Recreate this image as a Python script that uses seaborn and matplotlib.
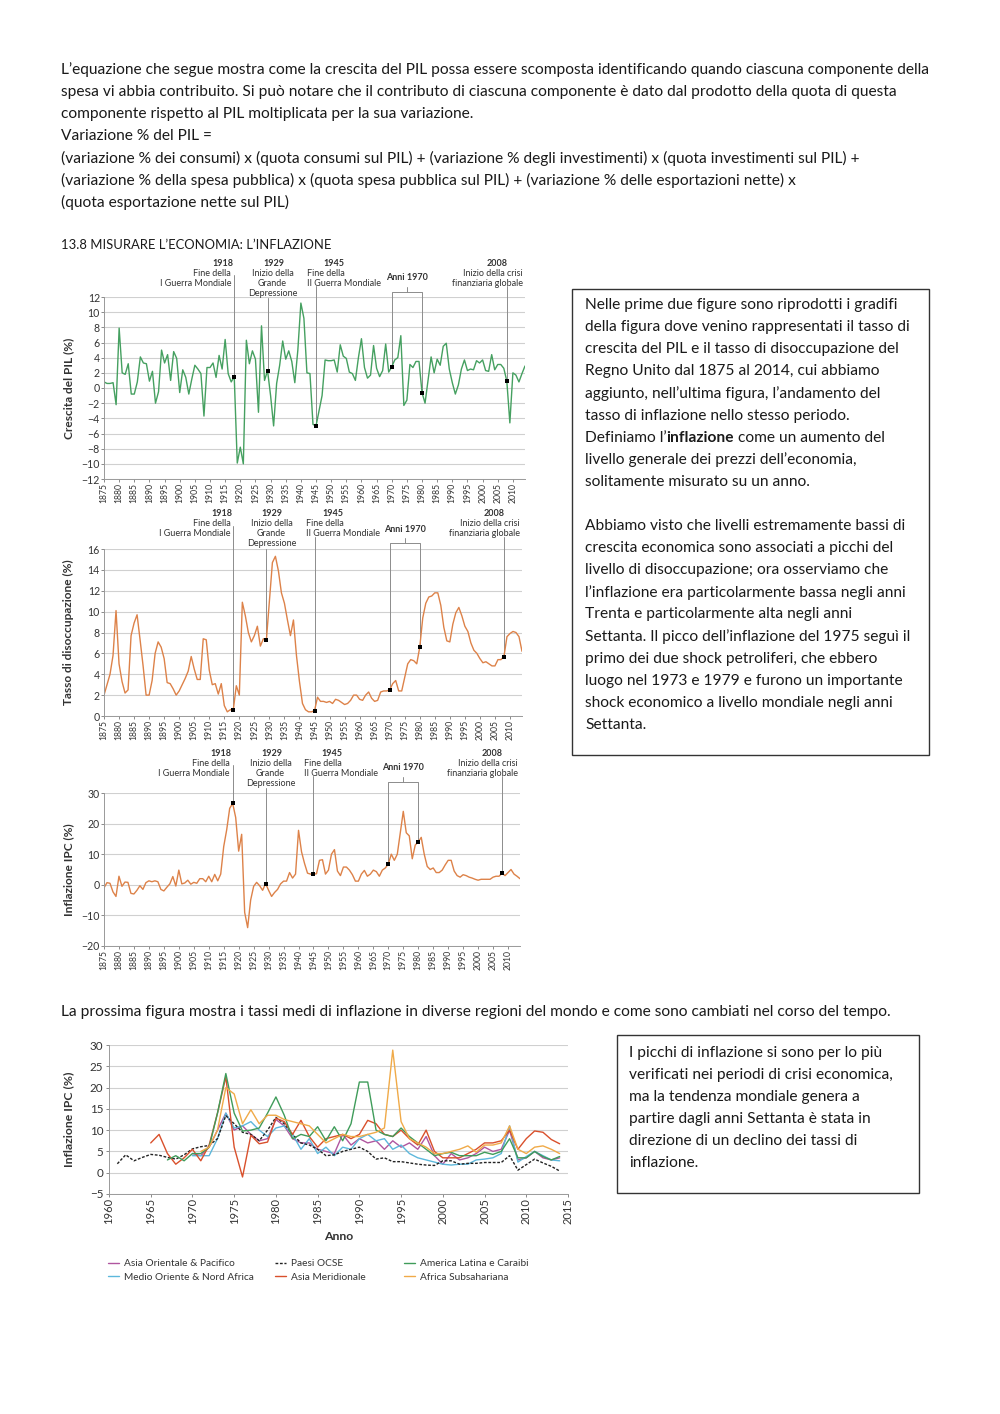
import numpy as np
import pandas as pd
import matplotlib
matplotlib.use('Agg')
import matplotlib.pyplot as plt
from matplotlib.patches import Rectangle
import seaborn as sns

# --- dati Regno Unito 1875-2014 ---
anni = np.arange(1875, 2015)

crescita_pil = [
    0.8, 0.6, 0.6, 0.7, -2.2,   7.9, 2.0, 1.8, 3.2, -0.8,
    -0.8, 0.8, 4.1, 3.3, 3.2,   0.9, 2.2, -2.0, -0.5, 5.0,
    3.3, 4.4, 1.0, 4.8, 3.9,    -0.6, 2.4, 1.4, -0.8, 1.2,
    3.0, 2.5, 1.9, -3.7, 2.7,   2.7, 3.3, 1.4, 4.3, 2.5,
    6.4, 1.9, 0.8, 1.5, -9.9,   -7.8, -10.0, 6.3, 3.2, 4.9,
    3.8, -3.2, 8.2, 1.0, 2.3,   -1.0, -5.0, 0.6, 3.0, 6.2,
    3.8, 4.9, 3.5, 0.7, 5.0,    11.2, 9.2, 2.0, 1.9, -4.8,
    -5.0, -3.0, -1.0, 3.7, 3.6, 3.6, 3.7, 2.1, 5.7, 4.2,
    3.9, 2.1, 1.9, 1.0, 4.0,    6.5, 2.7, 1.3, 1.7, 5.6,
    2.6, 1.5, 2.3, 5.8, 2.1,    2.8, 3.7, 4.0, 6.9, -2.3,
    -1.6, 3.1, 2.7, 3.5, 3.5,   -0.6, -2.0, 1.0, 4.1, 2.0,
    3.8, 3.0, 5.5, 5.9, 2.5,    0.7, -0.8, 0.4, 2.5, 3.7,
    2.3, 2.5, 2.4, 3.6, 3.3,    3.7, 2.3, 2.2, 4.4, 2.4,
    3.1, 3.1, 2.6, 0.9, -4.6,   2.0, 1.7, 0.8, 1.9, 2.9,
]

disoccupazione = [
    2.0, 3.0, 4.0, 5.8, 10.1,   5.0, 3.3, 2.2, 2.5, 7.7,
    8.9, 9.7, 7.3, 4.8, 2.0,    2.0, 3.4, 6.0, 7.1, 6.6,
    5.5, 3.2, 3.1, 2.6, 2.0,    2.4, 3.0, 3.6, 4.3, 5.7,
    4.5, 3.5, 3.5, 7.4, 7.3,    4.4, 3.0, 3.1, 2.1, 3.1,
    1.0, 0.4, 0.6, 0.6, 2.9,    2.0, 10.9, 9.6, 8.0, 7.1,
    7.7, 8.6, 6.7, 7.4, 7.3,    11.0, 14.7, 15.3, 13.9, 11.8,
    10.8, 9.2, 7.7, 9.2, 5.8,   3.3, 1.2, 0.6, 0.4, 0.4,
    0.5, 1.8, 1.4, 1.4, 1.3,    1.4, 1.2, 1.6, 1.5, 1.3,
    1.1, 1.2, 1.5, 2.0, 2.0,    1.6, 1.5, 2.0, 2.3, 1.7,
    1.4, 1.5, 2.3, 2.4, 2.4,    2.5, 3.1, 3.4, 2.4, 2.4,
    3.7, 5.0, 5.4, 5.3, 5.0,    6.6, 9.4, 10.8, 11.4, 11.5,
    11.8, 11.8, 10.6, 8.5, 7.2, 7.1, 8.8, 9.9, 10.4, 9.6,
    8.6, 8.1, 7.0, 6.3, 6.0,    5.5, 5.1, 5.2, 5.0, 4.8,
    4.8, 5.4, 5.4, 5.7, 7.6,    7.9, 8.1, 8.0, 7.6, 6.2,
]

inflazione_uk = [
    -1.0, 0.7, 0.5, -2.3, -3.8, 2.8, -0.5, 0.9, 0.8, -2.8,
    -3.0, -1.8, -0.3, -1.5, 0.7, 1.3, 1.0, 1.3, 1.0, -1.5,
    -2.0, -0.8, 0.3, 2.7, -0.4, 4.8, 0.3, 0.6, 1.5, 0.2,
    0.8, 0.5, 2.0, 2.0, 1.0,    2.8, 1.0, 3.4, 1.3, 3.5,
    12.5, 18.0, 25.0, 26.6, 22.0, 11.0, 16.5, -9.0, -14.0, -5.0,
    -0.5, 0.8, -0.3, -1.8, 0.4, -1.8, -3.8, -2.5, -1.5, 0.3,
    1.2, 1.2, 4.0, 2.2, 3.5,    17.8, 10.8, 7.0, 3.8, 3.5,
    3.5, 3.6, 8.0, 8.2, 3.5,    4.8, 10.0, 11.5, 4.5, 3.0,
    5.8, 5.8, 4.8, 3.3, 1.2,    1.2, 3.5, 4.7, 2.8, 3.5,
    4.8, 4.3, 2.8, 4.8, 5.5,    6.8, 10.0, 8.0, 10.0, 17.0,
    24.0, 17.0, 16.0, 8.5, 13.0, 14.0, 15.5, 10.0, 6.0, 5.0,
    5.5, 4.0, 4.0, 4.8, 6.5,    8.0, 8.0, 4.5, 3.0, 2.5,
    3.3, 3.0, 2.5, 2.2, 1.8,    1.5, 1.8, 1.8, 1.8, 1.8,
    2.5, 2.8, 2.8, 3.8, 3.0,    4.0, 5.0, 3.5, 2.8, 2.0,
]

anni_evento = [1918, 1929, 1945, 1970, 1980, 2008]

# --- dati regionali (anno iniziale, valori) ---
asia_orientale = (1970, [4.5, 4.0, 6.0, 10.0, 14.0, 10.0, 11.0, 9.0, 7.5, 8.0,
                         12.5, 11.0, 8.0, 7.0, 7.0, 5.5, 5.0, 4.5, 9.0, 6.5,
                         8.0, 7.0, 7.5, 5.5, 7.5, 6.0, 7.0, 5.5, 8.5, 4.0,
                         2.0, 4.5, 3.0, 3.5, 4.5, 6.0, 5.0, 5.5, 10.0, 3.0,
                         3.5, 5.0, 3.5, 3.0, 3.5])
paesi_ocse = (1961, [2.1, 4.2, 2.8, 3.6, 4.3, 4.1, 3.6, 3.2, 4.2,
                     5.6, 6.1, 6.4, 8.0, 13.4, 11.5, 9.5, 9.0, 7.5, 10.0,
                     13.0, 11.5, 9.0, 7.0, 6.5, 5.5, 4.0, 4.2, 5.0, 5.5,
                     6.0, 5.0, 3.2, 3.5, 2.6, 2.6, 2.3, 2.0, 1.8, 1.7,
                     2.8, 2.8, 2.0, 2.2, 2.2, 2.4, 2.4, 2.4, 4.0, 0.6,
                     1.9, 3.2, 2.3, 1.5, 0.4])
america_latina = (1967, [3.0, 4.0, 2.8,
                         4.5, 4.5, 6.0, 14.0, 23.3, 14.0, 9.8, 10.0, 10.5, 14.0,
                         17.8, 13.5, 8.0, 9.0, 8.5, 10.8, 7.5, 10.8, 7.5, 11.5,
                         21.3, 21.3, 10.0, 9.0, 8.5, 10.5, 8.5, 7.0, 5.5, 4.0,
                         4.5, 4.8, 4.0, 4.0, 4.0, 4.8, 4.3, 5.0, 8.0, 3.5,
                         3.5, 5.0, 3.8, 3.0, 3.8])
medio_oriente = (1970, [4.0, 4.0, 4.0, 8.0, 14.0, 10.5, 11.0, 12.0, 10.0, 8.5,
                        10.5, 11.0, 9.0, 5.5, 8.0, 4.5, 6.0, 4.0, 6.0, 5.5,
                        8.0, 9.0, 7.5, 8.0, 5.5, 6.5, 4.5, 3.5, 3.0, 2.5,
                        2.0, 1.8, 2.0, 2.0, 3.0, 3.2, 3.5, 4.5, 11.0, 2.5,
                        3.8, 5.0, 4.0, 3.0, 2.8])
asia_meridionale = (1965, [7.0, 9.0, 4.5, 2.0, 3.5,
                           5.5, 2.8, 6.5, 14.0, 22.5, 6.0, -1.0, 8.8, 6.8, 7.2,
                           12.8, 12.0, 9.0, 12.3, 8.5, 6.0, 8.0, 8.5, 9.0, 8.0,
                           9.0, 12.3, 11.5, 9.0, 8.5, 10.0, 8.0, 6.5, 10.0, 5.0,
                           3.5, 3.5, 3.5, 4.5, 5.5, 7.0, 7.0, 7.5, 10.0, 5.5,
                           8.0, 9.8, 9.5, 7.8, 6.8])
africa_subsahariana = (1971, [5.0, 6.0, 10.0, 20.0, 18.5, 11.5, 14.8, 11.5, 13.5,
                              13.5, 12.5, 12.0, 11.5, 11.0, 9.0, 7.0, 8.0, 9.0, 8.5,
                              8.5, 9.0, 9.5, 10.5, 28.8, 12.0, 8.0, 7.0, 6.0, 4.5,
                              4.5, 5.0, 5.5, 6.3, 4.8, 6.5, 6.5, 7.0, 11.0, 5.5,
                              4.5, 6.0, 6.3, 5.5, 4.5])

regioni = {
    'Asia Orientale & Pacifico': asia_orientale,
    'Medio Oriente & Nord Africa': medio_oriente,
    'Paesi OCSE': paesi_ocse,
    'Asia Meridionale': asia_meridionale,
    'America Latina e Caraibi': america_latina,
    'Africa Subsahariana': africa_subsahariana,
}
colori = {
    'Asia Orientale & Pacifico': '#b0569f',
    'Medio Oriente & Nord Africa': '#5db8dc',
    'Paesi OCSE': '#222222',
    'Asia Meridionale': '#d9502c',
    'America Latina e Caraibi': '#3f9c5a',
    'Africa Subsahariana': '#f0aa48',
}

W, H = 1000, 1414
sns.set_theme(style='white')
plt.rcParams['font.family'] = ['Lato', 'DejaVu Sans']
TXT = '#1a1a1a'
GRIGIO = '#8c8c8c'

fig = plt.figure(figsize=(10, 14.14), dpi=100)


def add_ax(left, top, right, bottom):
    return fig.add_axes([left / W, 1 - bottom / H, (right - left) / W, (bottom - top) / H])


def testo(x, y, s, **kw):
    return fig.text(x / W, 1 - y / H, s, va='center', ha='left', color=TXT, **kw)


# --- testo in alto ---
FS = 11.2
righe_top = [
    "L’equazione che segue mostra come la crescita del PIL possa essere scomposta identificando quando ciascuna componente della",
    "spesa vi abbia contribuito. Si può notare che il contributo di ciascuna componente è dato dal prodotto della quota di questa",
    "componente rispetto al PIL moltiplicata per la sua variazione.",
    "Variazione % del PIL =",
    "(variazione % dei consumi) x (quota consumi sul PIL) + (variazione % degli investimenti) x (quota investimenti sul PIL) +",
    "(variazione % della spesa pubblica) x (quota spesa pubblica sul PIL) + (variazione % delle esportazioni nette) x",
    "(quota esportazione nette sul PIL)",
]
for i, r in enumerate(righe_top):
    testo(61, 70 + 22 * i, r, fontsize=FS)

testo(61, 245, "13.8 MISURARE L’ECONOMIA: L’INFLAZIONE", fontsize=9.4)
testo(61, 1012, "La prossima figura mostra i tassi medi di inflazione in diverse regioni del mondo e come sono cambiati nel corso del tempo.", fontsize=FS)

# --- riquadro 1 ---
fig.add_artist(Rectangle((572 / W, 1 - 755 / H), 357 / W, 466 / H, transform=fig.transFigure,
                         fill=False, lw=1, ec='#333333'))
box1 = [
    "Nelle prime due figure sono riprodotti i gradifi",
    "della figura dove venino rappresentati il tasso di",
    "crescita del PIL e il tasso di disoccupazione del",
    "Regno Unito dal 1875 al 2014, cui abbiamo",
    "aggiunto, nell’ultima figura, l’andamento del",
    "tasso di inflazione nello stesso periodo.",
    None,
    "livello generale dei prezzi dell’economia,",
    "solitamente misurato su un anno.",
    "",
    "Abbiamo visto che livelli estremamente bassi di",
    "crescita economica sono associati a picchi del",
    "livello di disoccupazione; ora osserviamo che",
    "l’inflazione era particolarmente bassa negli anni",
    "Trenta e particolarmente alta negli anni",
    "Settanta. Il picco dell’inflazione del 1975 seguì il",
    "primo dei due shock petroliferi, che ebbero",
    "luogo nel 1973 e 1979 e furono un importante",
    "shock economico a livello mondiale negli anni",
    "Settanta.",
]
renderer = fig.canvas.get_renderer()
for i, r in enumerate(box1):
    y = 305 + 22.1 * i
    if r is None:
        x = 585
        for pezzo, peso in [("Definiamo l’", 'normal'), ("inflazione", 'bold'), (" come un aumento del", 'normal')]:
            t = testo(x, y, pezzo, fontsize=FS, fontweight=peso)
            x = t.get_window_extent(renderer=renderer).x1
    elif r:
        testo(585, y, r, fontsize=FS)

# --- riquadro 2 ---
fig.add_artist(Rectangle((617 / W, 1 - 1193 / H), 302 / W, 158 / H, transform=fig.transFigure,
                         fill=False, lw=1, ec='#333333'))
box2 = [
    "I picchi di inflazione si sono per lo più",
    "verificati nei periodi di crisi economica,",
    "ma la tendenza mondiale genera a",
    "partire dagli anni Settanta è stata in",
    "direzione di un declino dei tassi di",
    "inflazione.",
]
for i, r in enumerate(box2):
    testo(629, 1053 + 22 * i, r, fontsize=FS)


# --- grafici Regno Unito ---
def stile(ax, yticks, ylabel):
    ax.set_xlim(1875, 2014)
    ax.set_ylim(yticks[0], yticks[-1])
    ax.set_xticks(range(1875, 2011, 5))
    ax.set_yticks(yticks)
    ax.tick_params(axis='x', rotation=90, labelsize=6.2, length=2, width=0.6, color='#777', pad=1,
                   labelcolor='#333', bottom=True)
    ax.tick_params(axis='y', labelsize=7.6, length=2, width=0.6, color='#777', pad=1,
                   labelcolor='#333', left=True)
    ax.grid(axis='y', color='#d0d0d0', lw=0.8)
    ax.grid(axis='x', visible=False)
    for s in ['top', 'right']:
        ax.spines[s].set_visible(False)
    for s in ['left', 'bottom']:
        ax.spines[s].set_color('#999999')
        ax.spines[s].set_linewidth(0.7)
    ax.set_xlabel('')
    ax.set_ylabel(ylabel, fontsize=8.6, fontweight='bold', color='#333')
    ax.yaxis.set_label_coords(-0.072, 0.5)


def eventi(ax, valori, h_px, g):
    lo, hi = ax.get_ylim()

    def su(px):
        return hi + px * (hi - lo) / h_px

    val = dict(zip(anni, valori))
    cime = {1918: 22 + g, 1929: g - 1, 1945: 11 + g, 2008: 11 + g}
    for a, c in cime.items():
        ax.plot([a, a], [val[a], su(c)], color=GRIGIO, lw=0.7, clip_on=False, zorder=1)
    ax.plot([1970, 1970, 1980, 1980], [val[1970], su(5 + g), su(5 + g), val[1980]],
            color=GRIGIO, lw=0.7, clip_on=False, zorder=1)
    ax.plot([1975, 1975], [su(5 + g), su(10 + g)], color=GRIGIO, lw=0.7, clip_on=False)
    ax.scatter(anni_evento, [val[a] for a in anni_evento], marker='s', s=9, color='black',
               zorder=6, clip_on=False, linewidths=0)

    righe = [34 + g, 24 + g, 14 + g, 4 + g]

    def et(a, dx, riga, s, ha, bold=False):
        ax.annotate(s, xy=(a, 1), xycoords=('data', 'axes fraction'), xytext=(dx, righe[riga]),
                    textcoords='offset pixels', ha=ha, va='center', fontsize=6.5,
                    fontweight='bold' if bold else 'normal', color='#333', annotation_clip=False)

    et(1918, -1, 0, '1918', 'right', True)
    et(1918, -3, 1, 'Fine della', 'right')
    et(1918, -3, 2, 'I Guerra Mondiale', 'right')
    et(1929, 6, 0, '1929', 'center', True)
    et(1929, 5, 1, 'Inizio della', 'center')
    et(1929, 5, 2, 'Grande', 'center')
    et(1929, 5, 3, 'Depressione', 'center')
    et(1945, 18, 0, '1945', 'center', True)
    et(1945, -9, 1, 'Fine della', 'left')
    et(1945, -9, 2, 'II Guerra Mondiale', 'left')
    et(2008, 1, 0, '2008', 'right', True)
    et(2008, 16, 1, 'Inizio della crisi', 'right')
    et(2008, 16, 2, 'finanziaria globale', 'right')
    ax.annotate('Anni 1970', xy=(1975, 1), xycoords=('data', 'axes fraction'), xytext=(0, 19 + g),
                textcoords='offset pixels', ha='center', va='center', fontsize=6.5,
                fontweight='bold', color='#333', annotation_clip=False)


VERDE = '#45a060'
ARANCIO = '#dd8249'

ax1 = add_ax(104, 297, 525, 479)
sns.lineplot(x=anni, y=crescita_pil, ax=ax1, color=VERDE, lw=1.0, errorbar=None)
stile(ax1, list(range(-12, 13, 2)), 'Crescita del PIL (%)')
eventi(ax1, crescita_pil, 182, 0)

ax2 = add_ax(104, 549, 522, 716)
sns.lineplot(x=anni, y=disoccupazione, ax=ax2, color=ARANCIO, lw=1.0, errorbar=None)
stile(ax2, list(range(0, 17, 2)), 'Tasso di disoccupazione (%)')
eventi(ax2, disoccupazione, 167, 1)

ax3 = add_ax(104, 793, 520, 946)
sns.lineplot(x=anni, y=inflazione_uk, ax=ax3, color=ARANCIO, lw=1.0, errorbar=None)
stile(ax3, list(range(-20, 31, 10)), 'Inflazione IPC (%)')
eventi(ax3, inflazione_uk, 153, 6)

# --- grafico regionale ---
tab = []
for nome, (inizio, valori) in regioni.items():
    tab.append(pd.DataFrame({'Anno': np.arange(inizio, inizio + len(valori)),
                             'Inflazione': valori, 'Regione': nome}))
df = pd.concat(tab, ignore_index=True)

ax4 = add_ax(109, 1045, 568, 1194)
ordine = list(regioni.keys())
sns.lineplot(data=df, x='Anno', y='Inflazione', hue='Regione', style='Regione',
             hue_order=ordine, style_order=ordine, palette=colori,
             dashes={n: ((2, 1.2) if n == 'Paesi OCSE' else '') for n in ordine},
             lw=1.0, ax=ax4, errorbar=None)
ax4.set_xlim(1960, 2015)
ax4.set_ylim(-5, 30)
ax4.set_xticks(range(1960, 2016, 5))
ax4.set_yticks(range(-5, 31, 5))
ax4.tick_params(axis='x', rotation=90, labelsize=8, length=2, width=0.6, color='#777', pad=1,
                labelcolor='#333', bottom=True)
ax4.tick_params(axis='y', labelsize=8.4, length=2, width=0.6, color='#777', pad=2,
                labelcolor='#333', left=True)
ax4.grid(axis='y', color='#d0d0d0', lw=0.8)
for s in ['top', 'right']:
    ax4.spines[s].set_visible(False)
for s in ['left', 'bottom']:
    ax4.spines[s].set_color('#999999')
    ax4.spines[s].set_linewidth(0.7)
ax4.set_xlabel('Anno', fontsize=8.8, fontweight='bold', color='#333', labelpad=5)
ax4.set_ylabel('Inflazione IPC (%)', fontsize=8.8, fontweight='bold', color='#333')
ax4.yaxis.set_label_coords(-0.075, 0.5)

maniglie, etichette = ax4.get_legend_handles_labels()
ax4.get_legend().remove()
mappa = dict(zip(etichette, maniglie))
colonne = [(108, ordine[0:2]), (275, ordine[2:4]), (404, ordine[4:6])]
for x, nomi in colonne:
    fig.legend([mappa[n] for n in nomi], nomi, loc='upper left',
               bbox_to_anchor=(x / W, 1 - 1259 / H), frameon=False, fontsize=7.3,
               handlelength=1.1, handletextpad=0.5, borderpad=0, borderaxespad=0,
               labelspacing=0.45, labelcolor='#333')

fig.savefig('out.png', dpi=100, facecolor='white')
